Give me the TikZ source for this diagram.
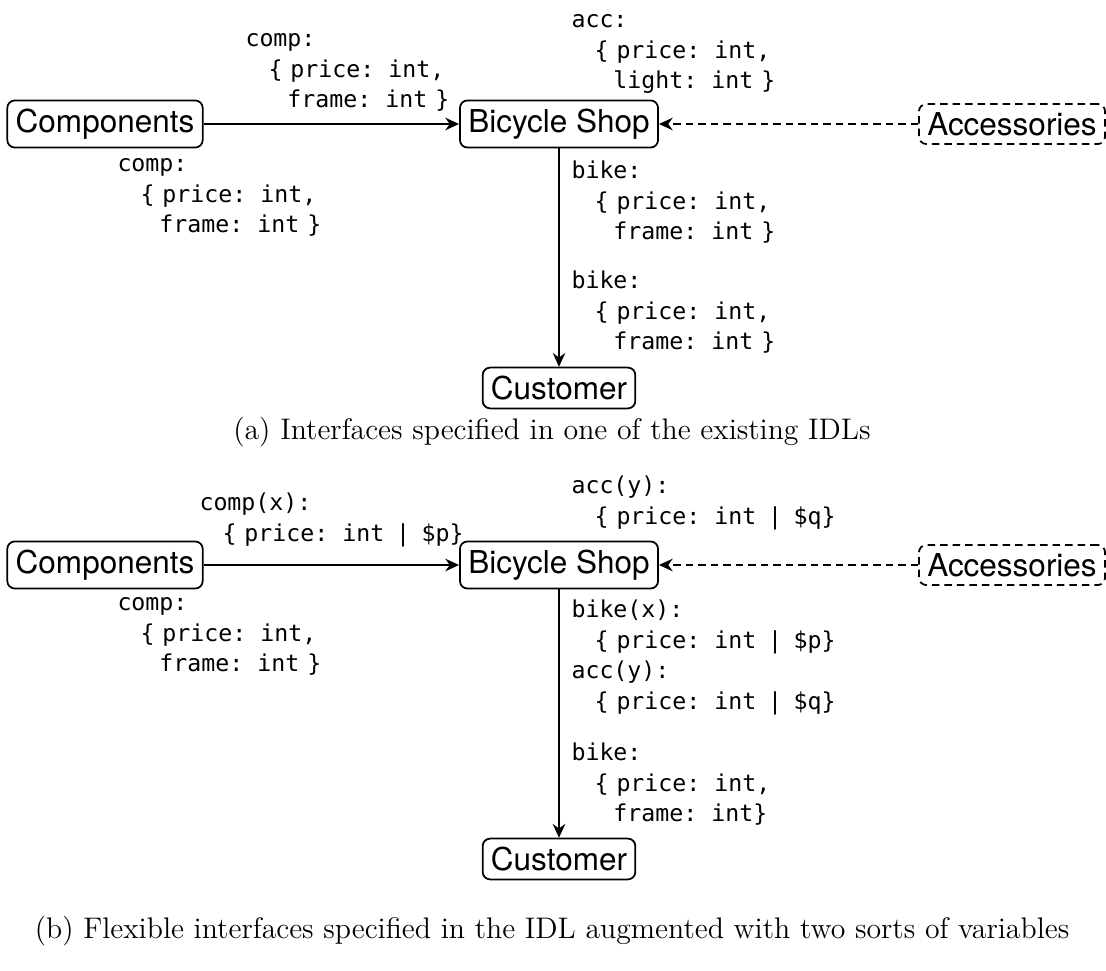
\documentclass[tikz,border=0pt]{standalone}
\usepackage{fontspec}
\setsansfont{TeX Gyre Heros}
\setmonofont{DejaVu Sans Mono}
\usetikzlibrary{arrows.meta, positioning}
\tikzset{%
   % a service in the shop network
   svc/.style={
      draw,
      rounded corners=3pt,
      line width=0.7pt,
      font=\sffamily\fontsize{12.6}{15}\selectfont
   },
   optsvc/.style={
      svc,
      dash pattern=on 3pt off 2pt
   },
   link/.style={
      -{Stealth[length=5.5pt, width=5pt]},
      line width=0.8pt
   },
   optlink/.style={
      link,
      dash pattern=on 3pt off 2pt
   },
   % interface text next to a link
   iface/.style={
      font=\ttfamily\fontsize{9.3}{12.2}\selectfont,
      align=left,
      inner sep=0pt,
      anchor=north west
   },
   subcap/.style={
      font=\fontsize{11.9}{14}\selectfont,
      anchor=base
   },
}
\newcommand{\tind}[1]{\hspace*{#1\dimexpr0.602em\relax}}
\newcommand{\tsp}{\hspace{0.34em}}
\newcommand{\bsp}{\hspace{0.5em}}

\begin{document}
\begin{tikzpicture}[x=0.4pt, y=-0.4pt]
   \useasboundingbox (0,0) rectangle (1106,971);
   % (a)
   \node[svc] (compA) at (105,124) {Components};
   \node[svc] (shopA) at (559,124) {Bicycle Shop};
   \node[optsvc] (accA) at (1012,124) {Accessories};
   \node[svc] (custA) at (559,388) {Customer};
   \draw[link] (compA) -- (shopA);
   \draw[optlink] (accA) -- (shopA);
   \draw[link] (shopA) -- (custA);
   \node[iface] (compAin) at (245,25) {\strut comp:\\\tind{1.65}\{\tsp price: int,\\\tind{3}frame: int\tsp\}};
   \node[iface] (compAout) at (117,150) {\strut comp:\\\tind{1.65}\{\tsp price: int,\\\tind{3}frame: int\tsp\}};
   \node[iface] (accAin) at (571,6) {\strut acc:\\\tind{1.65}\{\tsp price: int,\\\tind{3}light: int\tsp\}};
   \node[iface] (bikeAout) at (571,157) {\strut bike:\\\tind{1.65}\{\tsp price: int,\\\tind{3}frame: int\tsp\}};
   \node[iface] (bikeAin) at (571,267) {\strut bike:\\\tind{1.65}\{\tsp price: int,\\\tind{3}frame: int\tsp\}};
   \node[subcap] (capA) at (552,440) {(a) Interfaces specified in one of the existing IDLs};
   % (b)
   \node[svc] (compB) at (105,565) {Components};
   \node[svc] (shopB) at (559,565) {Bicycle Shop};
   \node[optsvc] (accB) at (1012,565) {Accessories};
   \node[svc] (custB) at (559,859) {Customer};
   \draw[link] (compB) -- (shopB);
   \draw[optlink] (accB) -- (shopB);
   \draw[link] (shopB) -- (custB);
   \node[iface] (compBin) at (199,489) {\strut comp(x):\\\tind{1.65}\{\tsp price: int\bsp|\bsp\$p\}};
   \node[iface] (accBin) at (571,472) {\strut acc(y):\\\tind{1.65}\{\tsp price: int\bsp|\bsp\$q\}};
   \node[iface] (compBout) at (117,589) {\strut comp:\\\tind{1.65}\{\tsp price: int,\\\tind{3}frame: int\tsp\}};
   \node[iface] (bikeBout) at (571,596) {\strut bike(x):\\\tind{1.65}\{\tsp price: int\bsp|\bsp\$p\}\\acc(y):\\\tind{1.65}\{\tsp price: int\bsp|\bsp\$q\}};
   \node[iface] (bikeBin) at (571,739) {\strut bike:\\\tind{1.65}\{\tsp price: int,\\\tind{3}frame: int\}};
   \node[subcap] (capB) at (552,938) {(b) Flexible interfaces specified in the IDL augmented with two sorts of variables};
\end{tikzpicture}
\end{document}
